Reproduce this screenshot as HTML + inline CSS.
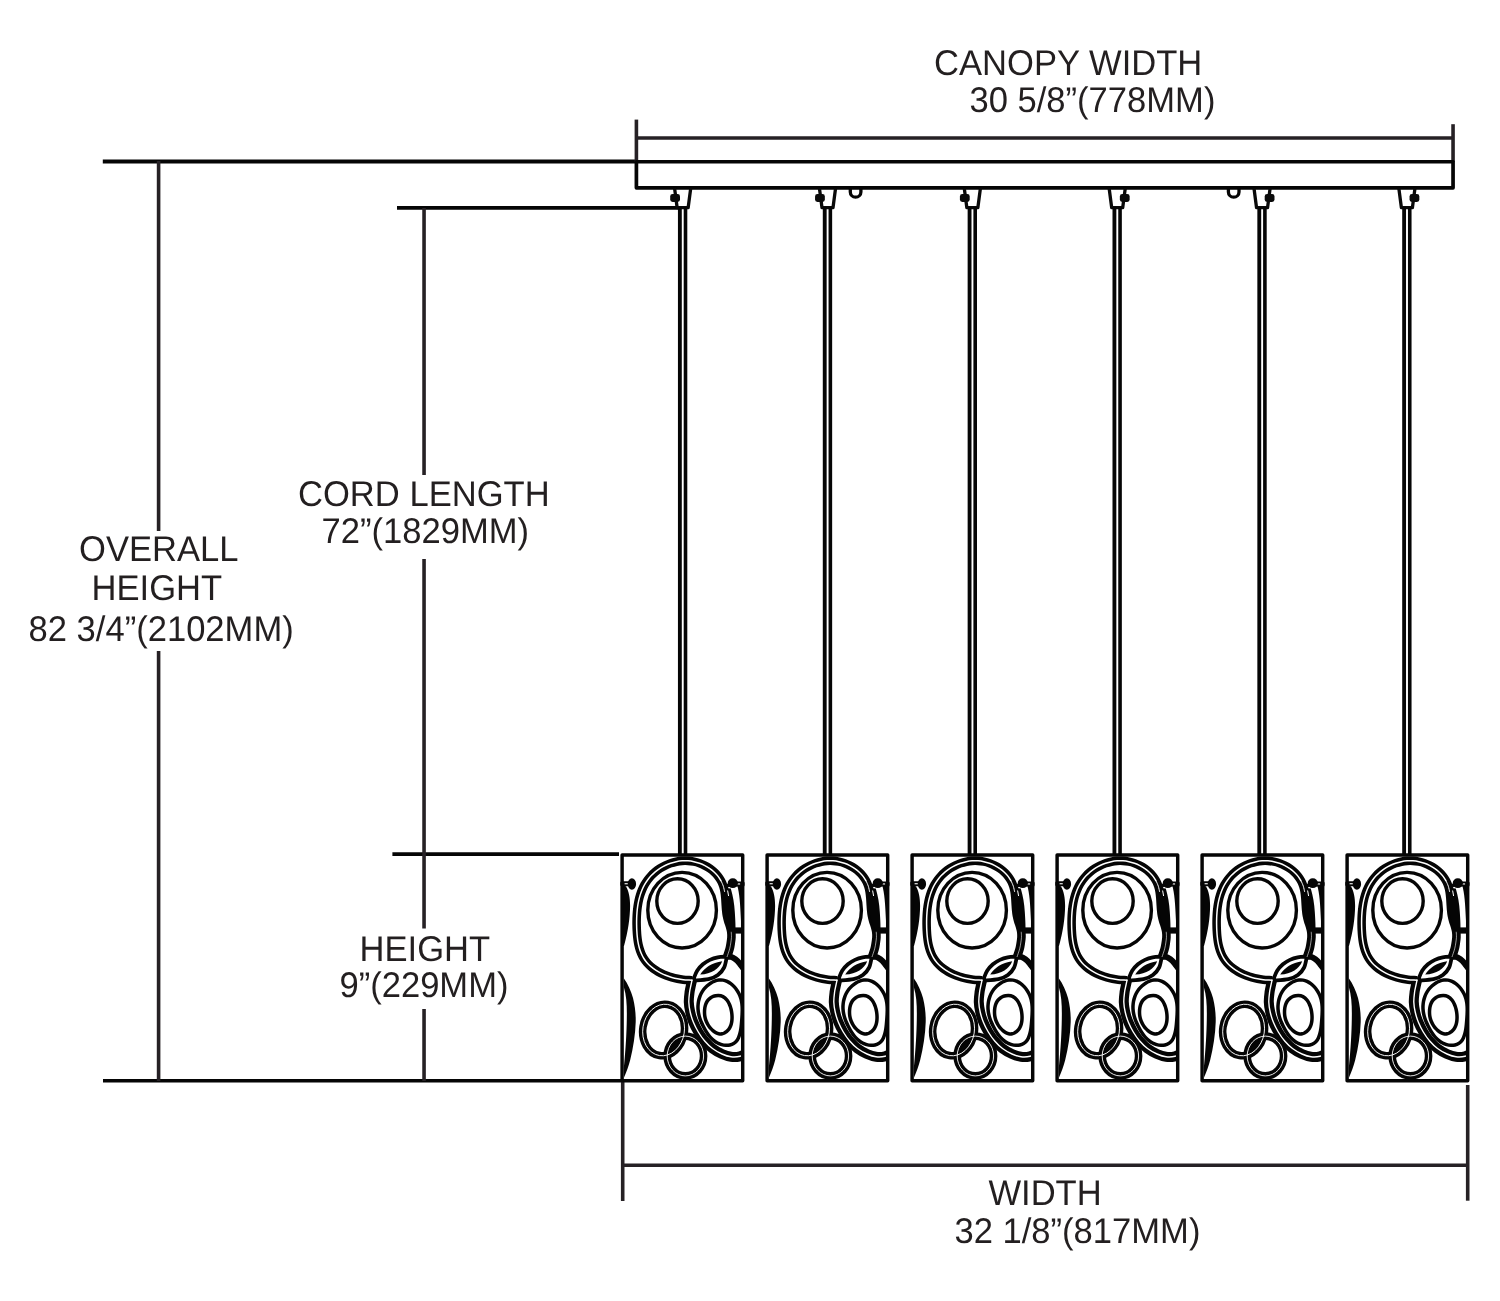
<!DOCTYPE html>
<html>
<head>
<meta charset="utf-8">
<title>Pendant dimension drawing</title>
<style>
html,body{margin:0;padding:0;background:#fff;}
body{width:1500px;height:1301px;overflow:hidden;}
svg{display:block;}
.t{font-family:"Liberation Sans",sans-serif;font-size:35.7px;fill:#231f20;text-rendering:geometricPrecision;}
.d{stroke:#262125;stroke-width:3.6;fill:none;}
.f{stroke:#050505;fill:none;}
</style>
</head>
<body>
<svg width="1500" height="1301" viewBox="0 0 1500 1301">
<rect width="1500" height="1301" fill="#fff"/>
<defs>
<!--SHADE-DEF-->
<g id="shade">
<clipPath id="shclip"><rect x="622.25" y="854.75" width="120.5" height="225.5"/></clipPath>
<g clip-path="url(#shclip)">
<path d="M692.30 980.20 C691.77 980.18 690.61 980.19 689.12 980.10 C687.62 980.02 685.25 979.91 683.33 979.70 C681.41 979.49 679.50 979.22 677.60 978.84 C675.69 978.47 673.77 978.02 671.88 977.47 C669.99 976.92 668.09 976.28 666.24 975.56 C664.39 974.83 662.55 974.02 660.79 973.12 C659.03 972.22 657.31 971.23 655.68 970.16 C654.06 969.08 652.49 967.92 651.04 966.68 C649.59 965.44 648.22 964.12 647.00 962.71 C645.77 961.30 644.66 959.81 643.69 958.25 C642.72 956.68 641.90 955.03 641.17 953.32 C640.44 951.62 639.84 949.84 639.33 948.02 C638.81 946.21 638.40 944.33 638.06 942.42 C637.71 940.52 637.46 938.56 637.26 936.60 C637.05 934.63 636.92 932.63 636.81 930.63 C636.70 928.63 636.64 926.62 636.62 924.61 C636.59 922.60 636.60 920.58 636.66 918.57 C636.72 916.57 636.82 914.57 636.98 912.59 C637.14 910.61 637.35 908.63 637.63 906.69 C637.90 904.75 638.24 902.82 638.65 900.93 C639.06 899.04 639.53 897.18 640.09 895.36 C640.65 893.54 641.28 891.75 642.00 890.01 C642.73 888.28 643.53 886.58 644.43 884.95 C645.34 883.31 646.33 881.72 647.43 880.20 C648.53 878.69 649.73 877.22 651.03 875.83 C652.33 874.45 653.75 873.12 655.23 871.89 C656.72 870.65 658.31 869.49 659.95 868.43 C661.60 867.37 663.33 866.40 665.10 865.53 C666.86 864.67 668.70 863.90 670.57 863.26 C672.43 862.62 674.35 862.08 676.27 861.68 C678.20 861.27 680.16 860.99 682.12 860.85 C684.08 860.71 686.06 860.71 688.02 860.84 C689.98 860.98 691.95 861.26 693.86 861.66 C695.78 862.06 697.69 862.61 699.53 863.26 C701.38 863.91 703.19 864.70 704.91 865.58 C706.64 866.47 708.32 867.47 709.88 868.58 C711.45 869.68 712.96 870.89 714.33 872.19 C715.70 873.49 716.99 874.90 718.13 876.38 C719.27 877.86 720.30 879.43 721.17 881.07 C722.04 882.72 722.76 884.45 723.33 886.24 C723.91 888.02 724.29 889.89 724.62 891.79 C724.94 893.68 725.12 895.64 725.30 897.61 C725.48 899.57 725.55 901.58 725.69 903.57 C725.82 905.55 725.91 907.57 726.10 909.54 C726.29 911.51 726.49 913.48 726.85 915.39 C727.20 917.31 727.71 919.18 728.22 921.01 C728.74 922.85 729.46 924.62 729.96 926.42 C730.46 928.22 730.99 929.98 731.24 931.79 C731.48 933.60 731.51 935.43 731.44 937.29 C731.36 939.15 731.08 941.04 730.78 942.96 C730.48 944.89 730.28 946.51 729.65 948.85 C729.02 951.19 727.44 955.64 727.00 957.00" fill="none" stroke="#050505" stroke-width="8.60" stroke-linejoin="round" stroke-linecap="butt" clip-path="url(#shclip)"/>
<path d="M692.20 979.50 C692.00 980.42 691.43 982.92 691.00 985.00 C690.57 987.08 689.97 989.17 689.60 992.00 C689.23 994.83 688.70 998.67 688.80 1002.00 C688.90 1005.33 689.45 1008.67 690.20 1012.00 C690.95 1015.33 691.95 1018.67 693.30 1022.00 C694.65 1025.33 696.40 1028.83 698.30 1032.00 C700.20 1035.17 702.33 1038.25 704.70 1041.00 C707.07 1043.75 709.62 1046.33 712.50 1048.50 C715.38 1050.67 718.92 1052.62 722.00 1054.00 C725.08 1055.38 728.00 1056.42 731.00 1056.80 C734.00 1057.18 736.83 1057.10 740.00 1056.30 C743.17 1055.50 748.33 1052.72 750.00 1052.00" fill="none" stroke="#050505" stroke-width="10.00" stroke-linejoin="round" stroke-linecap="butt" clip-path="url(#shclip)"/>
<path d="M726.50 957.00 C727.25 956.97 729.53 956.43 731.00 956.80 C732.47 957.17 733.88 958.13 735.30 959.20 C736.72 960.27 738.22 961.73 739.50 963.20 C740.78 964.67 742.42 967.20 743.00 968.00" fill="none" stroke="#050505" stroke-width="6.00" stroke-linejoin="round" stroke-linecap="round" />
<path d="M693.60 978.80 C694.22 977.43 695.75 973.02 697.30 970.60 C698.85 968.18 700.80 966.08 702.90 964.30 C705.00 962.52 707.43 961.05 709.90 959.90 C712.37 958.75 714.88 957.95 717.70 957.40 C720.52 956.85 725.28 956.73 726.80 956.60 L726.80 956.60 C726.37 958.38 725.68 964.23 724.20 967.30 C722.72 970.37 720.52 973.02 717.90 975.00 C715.28 976.98 712.55 978.27 708.50 979.20 C704.45 980.13 696.08 980.37 693.60 980.60Z" fill="#fff" stroke="#050505" stroke-width="3.8" stroke-linejoin="round"/>
<path d="M700.2 974.6 C704.5 967.5 712 962.5 722.2 961.2 C719.5 968.5 711.5 974 700.2 974.6Z" fill="#050505" stroke="none" />
<path d="M723.04 980.12 C724.41 980.33 725.77 980.77 727.07 981.35 C728.36 981.93 729.62 982.73 730.79 983.61 C731.97 984.49 733.09 985.54 734.11 986.63 C735.14 987.73 736.09 988.95 736.93 990.18 C737.76 991.40 738.51 992.71 739.13 993.99 C739.76 995.28 740.26 996.58 740.68 997.90 C741.09 999.22 741.40 1000.54 741.64 1001.90 C741.89 1003.25 742.03 1004.62 742.14 1006.01 C742.24 1007.41 742.26 1008.82 742.26 1010.27 C742.26 1011.72 742.19 1013.19 742.12 1014.70 C742.04 1016.21 741.93 1017.75 741.81 1019.33 C741.69 1020.90 741.58 1022.54 741.41 1024.14 C741.25 1025.75 741.08 1027.40 740.83 1028.97 C740.58 1030.54 740.30 1032.11 739.91 1033.57 C739.52 1035.02 739.07 1036.43 738.49 1037.69 C737.92 1038.94 737.26 1040.12 736.44 1041.10 C735.62 1042.07 734.67 1042.91 733.59 1043.55 C732.51 1044.19 731.26 1044.64 729.97 1044.93 C728.69 1045.21 727.28 1045.32 725.89 1045.27 C724.51 1045.21 723.04 1044.99 721.66 1044.62 C720.28 1044.25 718.89 1043.72 717.60 1043.05 C716.31 1042.39 715.09 1041.56 713.94 1040.65 C712.79 1039.73 711.71 1038.68 710.69 1037.57 C709.67 1036.46 708.72 1035.24 707.82 1034.00 C706.92 1032.75 706.09 1031.43 705.30 1030.11 C704.52 1028.79 703.79 1027.42 703.11 1026.08 C702.44 1024.73 701.81 1023.39 701.25 1022.04 C700.68 1020.69 700.18 1019.34 699.75 1017.98 C699.32 1016.62 698.95 1015.26 698.67 1013.89 C698.39 1012.52 698.19 1011.14 698.08 1009.75 C697.97 1008.36 697.94 1006.95 698.01 1005.54 C698.09 1004.12 698.26 1002.68 698.53 1001.27 C698.81 999.85 699.18 998.42 699.66 997.05 C700.14 995.67 700.72 994.30 701.42 993.00 C702.11 991.70 702.92 990.43 703.83 989.25 C704.75 988.07 705.80 986.94 706.92 985.93 C708.05 984.91 709.30 983.97 710.58 983.18 C711.86 982.38 713.23 981.69 714.61 981.17 C715.98 980.66 717.42 980.27 718.83 980.10 C720.23 979.92 721.66 979.92 723.04 980.12Z" fill="none" stroke="#050505" stroke-width="3.50" stroke-linejoin="round" stroke-linecap="round" />
<path d="M718.39 995.48 C719.22 995.49 720.02 995.61 720.78 995.80 C721.54 995.99 722.26 996.28 722.94 996.64 C723.62 997.00 724.27 997.44 724.87 997.94 C725.48 998.44 726.04 999.01 726.57 999.64 C727.10 1000.26 727.59 1000.95 728.04 1001.67 C728.49 1002.40 728.90 1003.18 729.28 1003.99 C729.65 1004.80 729.99 1005.65 730.29 1006.52 C730.59 1007.40 730.85 1008.30 731.07 1009.22 C731.29 1010.14 731.48 1011.08 731.62 1012.02 C731.77 1012.96 731.88 1013.92 731.95 1014.86 C732.02 1015.80 732.06 1016.75 732.05 1017.69 C732.04 1018.62 731.99 1019.54 731.89 1020.45 C731.79 1021.35 731.65 1022.24 731.46 1023.10 C731.27 1023.95 731.03 1024.79 730.73 1025.59 C730.43 1026.39 730.08 1027.16 729.67 1027.89 C729.26 1028.61 728.79 1029.30 728.26 1029.93 C727.72 1030.57 727.12 1031.16 726.48 1031.68 C725.84 1032.19 725.14 1032.65 724.42 1033.01 C723.70 1033.37 722.93 1033.65 722.16 1033.81 C721.40 1033.97 720.60 1034.03 719.81 1033.96 C719.02 1033.90 718.22 1033.70 717.44 1033.41 C716.66 1033.13 715.88 1032.72 715.12 1032.25 C714.37 1031.79 713.63 1031.22 712.92 1030.62 C712.22 1030.02 711.53 1029.34 710.90 1028.65 C710.27 1027.95 709.66 1027.20 709.12 1026.45 C708.57 1025.70 708.08 1024.93 707.63 1024.16 C707.19 1023.38 706.79 1022.59 706.45 1021.80 C706.10 1021.00 705.81 1020.19 705.56 1019.37 C705.31 1018.56 705.11 1017.73 704.95 1016.89 C704.79 1016.05 704.68 1015.20 704.61 1014.34 C704.54 1013.48 704.51 1012.61 704.52 1011.73 C704.54 1010.85 704.58 1009.95 704.68 1009.07 C704.79 1008.18 704.92 1007.28 705.13 1006.41 C705.33 1005.55 705.58 1004.68 705.90 1003.86 C706.22 1003.04 706.60 1002.24 707.06 1001.50 C707.52 1000.76 708.05 1000.06 708.66 999.43 C709.27 998.80 709.98 998.23 710.73 997.73 C711.49 997.24 712.34 996.82 713.18 996.48 C714.02 996.14 714.93 995.88 715.80 995.71 C716.67 995.55 717.56 995.46 718.39 995.48Z" fill="none" stroke="#050505" stroke-width="3.50" stroke-linejoin="round" stroke-linecap="round" />
</g>
<path d="M725 888 L730.8 888.5 C733 896 734.4 904 734.8 912 C735.2 918 735.5 923 735.5 927.5 L735.5 931 L731 931 C728 926 726 921 724.5 912 C723.5 904 724 896 725 888Z" fill="#050505" stroke="none" />
<rect x="733" y="927.4" width="9" height="6.2" fill="#050505"/>
<ellipse cx="677.5" cy="901.1" rx="20.7" ry="22.3" fill="none" stroke="#050505" stroke-width="3.4"/>
<ellipse cx="682.1" cy="910.2" rx="34.3" ry="37.8" fill="none" stroke="#050505" stroke-width="3.4"/>
<ellipse transform="rotate(9 663.6 1030)" cx="663.6" cy="1030" rx="20.8" ry="25.9" fill="none" stroke="#050505" stroke-width="7.6"/>
<ellipse cx="685.4" cy="1056" rx="18.2" ry="19.9" fill="none" stroke="#050505" stroke-width="7.6"/>
<path d="M670.5 1050.6 C672 1045 677 1040.3 683.8 1039.4 C682.8 1044.8 678 1049.6 670.5 1050.6Z" fill="#050505" stroke="none" />
<path d="M622 884 L626 886.5 C628.8 891 630.2 898 630.1 906 C630 918 628 932 624 946 L622 946Z" fill="#050505" stroke="none" />
<path d="M623.8 978.2 C628 984 631 991 633 998 C635 1006 635.9 1014 635.7 1022 C635.4 1034 633.2 1048 630.2 1060 C628.6 1066 626.5 1072 624 1077.5 L623.8 1068 C625 1056 626.3 1040 626.7 1024 C627 1010 627.2 998 623.8 987 Z" fill="#050505" stroke="none" />
<rect x="620.3" y="881.3" width="12" height="5" rx="1.5" fill="#050505"/>
<rect x="624.6" y="883.2" width="5.4" height="1.1" fill="#fff"/>
<ellipse cx="631.9" cy="884" rx="4.2" ry="5.7" fill="#050505"/>
<path d="M737.3 885.5 C739.4 893 740.3 903 741 921 L742.5 921 L742.5 885.5 Z" fill="#050505" stroke="none" />
<rect x="730" y="881.4" width="14.6" height="5" rx="1.5" fill="#050505"/>
<rect x="734.5" y="883.4" width="5.6" height="1.1" fill="#fff"/>
<ellipse cx="732.8" cy="883.2" rx="5.1" ry="4.9" fill="#050505"/>
<path d="M726 886.5 L731 884" fill="none" stroke="#050505" stroke-width="3.20" stroke-linejoin="round" stroke-linecap="round" />
<path d="M692.30 980.20 C691.77 980.18 690.61 980.19 689.12 980.10 C687.62 980.02 685.25 979.91 683.33 979.70 C681.41 979.49 679.50 979.22 677.60 978.84 C675.69 978.47 673.77 978.02 671.88 977.47 C669.99 976.92 668.09 976.28 666.24 975.56 C664.39 974.83 662.55 974.02 660.79 973.12 C659.03 972.22 657.31 971.23 655.68 970.16 C654.06 969.08 652.49 967.92 651.04 966.68 C649.59 965.44 648.22 964.12 647.00 962.71 C645.77 961.30 644.66 959.81 643.69 958.25 C642.72 956.68 641.90 955.03 641.17 953.32 C640.44 951.62 639.84 949.84 639.33 948.02 C638.81 946.21 638.40 944.33 638.06 942.42 C637.71 940.52 637.46 938.56 637.26 936.60 C637.05 934.63 636.92 932.63 636.81 930.63 C636.70 928.63 636.64 926.62 636.62 924.61 C636.59 922.60 636.60 920.58 636.66 918.57 C636.72 916.57 636.82 914.57 636.98 912.59 C637.14 910.61 637.35 908.63 637.63 906.69 C637.90 904.75 638.24 902.82 638.65 900.93 C639.06 899.04 639.53 897.18 640.09 895.36 C640.65 893.54 641.28 891.75 642.00 890.01 C642.73 888.28 643.53 886.58 644.43 884.95 C645.34 883.31 646.33 881.72 647.43 880.20 C648.53 878.69 649.73 877.22 651.03 875.83 C652.33 874.45 653.75 873.12 655.23 871.89 C656.72 870.65 658.31 869.49 659.95 868.43 C661.60 867.37 663.33 866.40 665.10 865.53 C666.86 864.67 668.70 863.90 670.57 863.26 C672.43 862.62 674.35 862.08 676.27 861.68 C678.20 861.27 680.16 860.99 682.12 860.85 C684.08 860.71 686.06 860.71 688.02 860.84 C689.98 860.98 691.95 861.26 693.86 861.66 C695.78 862.06 697.69 862.61 699.53 863.26 C701.38 863.91 703.19 864.70 704.91 865.58 C706.64 866.47 708.32 867.47 709.88 868.58 C711.45 869.68 712.96 870.89 714.33 872.19 C715.70 873.49 716.99 874.90 718.13 876.38 C719.27 877.86 720.66 880.29 721.17 881.07" fill="none" stroke="#fff" stroke-width="1.5" stroke-linejoin="round"/>
<path d="M721.17 881.07 C721.53 881.93 722.76 884.45 723.33 886.24 C723.91 888.02 724.40 890.86 724.62 891.79" fill="none" stroke="#fff" stroke-width="1.0" stroke-linejoin="round"/>
<path d="M731.24 931.79 C731.27 932.71 731.51 935.43 731.44 937.29 C731.36 939.15 731.08 941.04 730.78 942.96 C730.48 944.89 730.28 946.51 729.65 948.85 C729.02 951.19 727.44 955.64 727.00 957.00" fill="none" stroke="#fff" stroke-width="0.6" stroke-linejoin="round"/>
<path d="M692.20 979.50 C692.00 980.42 691.43 982.92 691.00 985.00 C690.57 987.08 689.97 989.17 689.60 992.00 C689.23 994.83 688.70 998.67 688.80 1002.00 C688.90 1005.33 689.45 1008.67 690.20 1012.00 C690.95 1015.33 691.95 1018.67 693.30 1022.00 C694.65 1025.33 696.40 1028.83 698.30 1032.00 C700.20 1035.17 702.33 1038.25 704.70 1041.00 C707.07 1043.75 709.62 1046.33 712.50 1048.50 C715.38 1050.67 718.92 1052.62 722.00 1054.00 C725.08 1055.38 728.00 1056.42 731.00 1056.80 C734.00 1057.18 736.83 1057.10 740.00 1056.30 C743.17 1055.50 748.33 1052.72 750.00 1052.00" fill="none" stroke="#fff" stroke-width="1.40" stroke-linejoin="round" clip-path="url(#shclip)"/>
<path d="M727.6 890.5 L728.6 896" fill="none" stroke="#fff" stroke-width="1"/>
<ellipse transform="rotate(9 663.6 1030)" cx="663.6" cy="1030" rx="20.8" ry="25.9" fill="none" stroke="#fff" stroke-width="0.9"/>
<ellipse cx="685.4" cy="1056" rx="18.2" ry="19.9" fill="none" stroke="#fff" stroke-width="0.9"/>
<rect x="622.1" y="854.9" width="120.6" height="225.75" stroke="#050505" stroke-width="3.45" fill="none" stroke-linejoin="round"/>
</g>
<!--/SHADE-DEF-->
<g id="hangL">
<path d="M674.55 188 L677.15 207.7 L688.15 207.7 L690.75 188" stroke="#0a0a0a" stroke-width="3.3" fill="none" stroke-linejoin="round"/>
<rect x="670.2" y="194.1" width="9.8" height="7.8" rx="2.4" fill="#0a0a0a"/>
</g>
<g id="hangR">
<path d="M674.55 188 L677.15 207.7 L688.15 207.7 L690.75 188" stroke="#0a0a0a" stroke-width="3.3" fill="none" stroke-linejoin="round"/>
<rect x="685.3" y="194.1" width="9.8" height="7.8" rx="2.4" fill="#0a0a0a"/>
</g>
<g id="cord">
<line x1="679.87" y1="207" x2="679.87" y2="854" stroke="#050505" stroke-width="3.85"/>
<line x1="685.5" y1="207" x2="685.5" y2="854" stroke="#050505" stroke-width="3.6"/>
</g>
</defs>

<!-- extension lines (black) -->
<g stroke="#050505" stroke-width="3.8" fill="none">
<line x1="102.8" y1="161.5" x2="636" y2="161.5"/>
<line x1="397" y1="207.9" x2="679" y2="207.9"/>
<line x1="392.4" y1="854.05" x2="619" y2="854.05"/>
<line x1="103" y1="1080.7" x2="622" y2="1080.7" stroke-width="3.5"/>
</g>
<!-- dimension lines -->
<g class="d">
<line x1="636.5" y1="138" x2="1453" y2="138" stroke-width="3.7"/>
<line x1="158.6" y1="161" x2="158.6" y2="531"/>
<line x1="158.6" y1="651" x2="158.6" y2="1081"/>
<line x1="424.05" y1="208" x2="424.05" y2="475"/>
<line x1="424.05" y1="559" x2="424.05" y2="928.4"/>
<line x1="424.05" y1="1009" x2="424.05" y2="1081"/>
<line x1="622.7" y1="1080" x2="622.7" y2="1201"/>
<line x1="1467.7" y1="1085" x2="1467.7" y2="1200.7"/>
<line x1="622.7" y1="1165.3" x2="1467.7" y2="1165.3"/>
</g>

<!-- canopy -->
<g class="d" stroke-width="3.8">
<line x1="636.4" y1="119.6" x2="636.4" y2="162"/>
<line x1="1453.05" y1="124.2" x2="1453.05" y2="162"/>
</g>
<rect x="636.4" y="161.75" width="816.65" height="26.05" class="f" stroke-width="3.7" stroke-linejoin="round"/>
<path d="M850.3 188 L850.3 191.9 A5.3 5.3 0 0 0 860.9 191.9 L860.9 188" class="f" stroke-width="3.3"/>
<path d="M1228.4 188 L1228.4 191.9 A5.3 5.3 0 0 0 1239.0 191.9 L1239.0 188" class="f" stroke-width="3.3"/>

<!-- hangers + cords -->
<use href="#hangL" x="0"/>
<use href="#hangL" x="144.85"/>
<use href="#hangL" x="289.7"/>
<use href="#hangR" x="434.55"/>
<use href="#hangR" x="579.4"/>
<use href="#hangR" x="724.25"/>
<use href="#cord" x="0"/>
<use href="#cord" x="144.85"/>
<use href="#cord" x="289.7"/>
<use href="#cord" x="434.55"/>
<use href="#cord" x="579.4"/>
<use href="#cord" x="724.25"/>

<!-- shades -->
<use href="#shade" x="0"/>
<use href="#shade" x="145"/>
<use href="#shade" x="290"/>
<use href="#shade" x="435"/>
<use href="#shade" x="580"/>
<use href="#shade" x="725"/>

<!-- text -->
<g class="t" opacity="0.999">
<text transform="translate(934,75) scale(0.969,1)">CANOPY WIDTH</text>
<text transform="translate(969.4,111.6) scale(0.969,1)">30 5/8”(778MM)</text>
<text transform="translate(298,506.4) scale(0.969,1)">CORD LENGTH</text>
<text transform="translate(321.5,543) scale(0.969,1)">72”(1829MM)</text>
<text transform="translate(79,560.6) scale(0.969,1)">OVERALL</text>
<text transform="translate(91.5,599.6) scale(0.969,1)">HEIGHT</text>
<text transform="translate(28.5,641) scale(0.969,1)">82 3/4”(2102MM)</text>
<text transform="translate(359.5,960.7) scale(0.969,1)">HEIGHT</text>
<text transform="translate(339.4,997.3) scale(0.969,1)">9”(229MM)</text>
<text transform="translate(988.4,1204.8) scale(0.969,1)">WIDTH</text>
<text transform="translate(954.4,1242.7) scale(0.969,1)">32 1/8”(817MM)</text>
</g>
</svg>
</body>
</html>
